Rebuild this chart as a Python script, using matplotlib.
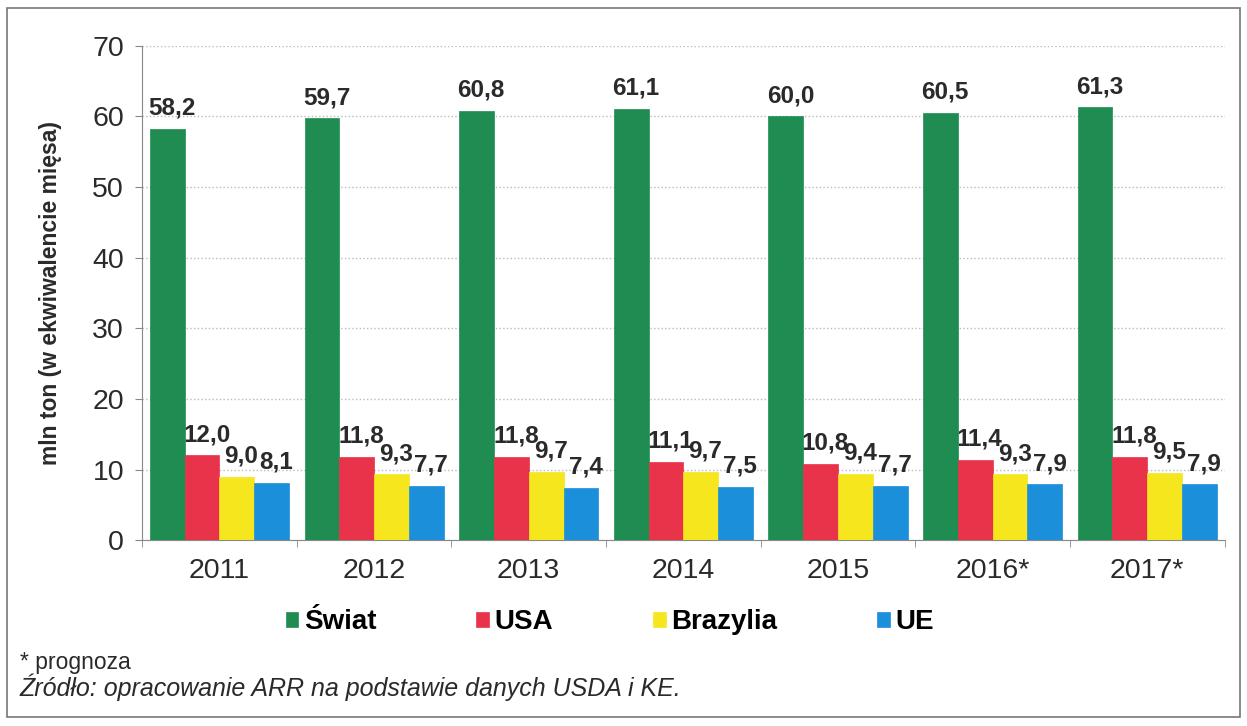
import numpy as np
import matplotlib
matplotlib.use('Agg')
import matplotlib.pyplot as plt
from matplotlib.patches import Rectangle

plt.rcParams['font.family'] = ['Liberation Sans', 'DejaVu Sans']

years = ['2011', '2012', '2013', '2014', '2015', '2016*', '2017*']
swiat = [58.2, 59.7, 60.8, 61.1, 60.0, 60.5, 61.3]
usa = [12.0, 11.8, 11.8, 11.1, 10.8, 11.4, 11.8]
brazylia = [9.0, 9.3, 9.7, 9.7, 9.4, 9.3, 9.5]
ue = [8.1, 7.7, 7.4, 7.5, 7.7, 7.9, 7.9]

series = [('Świat', swiat, '#1f8c52'),
          ('USA', usa, '#e8334a'),
          ('Brazylia', brazylia, '#f5e61e'),
          ('UE', ue, '#1c8fdb')]

fig = plt.figure(figsize=(12.47, 7.26), dpi=100)
ax = fig.add_axes([0.114, 0.256, 0.868, 0.681])

x = np.arange(len(years))
w = 0.225
for i, (name, vals, col) in enumerate(series):
    pos = x - 1.5 * w + i * w
    ax.bar(pos, vals, w, color=col, edgecolor=col, linewidth=0.5, label=name, zorder=3)
    # labels sit under the bars, so a neighbouring bar can hide a digit (as in the source)
    for p, v in zip(pos, vals):
        ax.text(p + 0.03, v + 1.3, ('%.1f' % v).replace('.', ','), ha='center', va='bottom',
                fontsize=17.5, fontweight='bold', color='#2a2a2a', zorder=2)

ax.set_xlim(-0.5, len(years) - 0.5)
ax.set_ylim(0, 70)
ax.set_yticks(range(0, 71, 10))
ax.set_xticks(x)
ax.set_xticklabels(years, fontsize=20.5, color='#2a2a2a')
ax.tick_params(axis='y', labelsize=20.5, colors='#2a2a2a', length=5, color='#888888', pad=8)
ax.tick_params(axis='x', length=0, pad=13)
# small ticks between the year groups
ax.set_xticks(np.arange(len(years) + 1) - 0.5, minor=True)
ax.tick_params(axis='x', which='minor', length=5, color='#888888')

ax.yaxis.grid(True, linestyle=':', color='#bbbbbb', linewidth=1, zorder=0)
for s in ['top', 'right']:
    ax.spines[s].set_visible(False)
for s in ['left', 'bottom']:
    ax.spines[s].set_color('#888888')

ax.set_ylabel('mln ton (w ekwiwalencie mięsa)', fontsize=16.5, fontweight='bold',
              color='#2a2a2a', labelpad=22)

leg = fig.legend(loc='center', bbox_to_anchor=(0.489, 0.143), ncol=4, frameon=False,
                 handlelength=0.45, handleheight=0.45, handletextpad=0.2,
                 columnspacing=3.6, prop={'weight': 'bold', 'size': 20})

fig.text(0.016, 0.078, '* prognoza', fontsize=16.5, color='#2a2a2a')
fig.text(0.016, 0.041, 'Źródło: opracowanie ARR na podstawie danych USDA i KE.',
         fontsize=18, style='italic', color='#2a2a2a')

fig.patches.append(Rectangle((0.006, 0.012), 0.988, 0.977, transform=fig.transFigure,
                             fill=False, edgecolor='#777777', linewidth=1.2))

fig.savefig('out.png', dpi=100)
